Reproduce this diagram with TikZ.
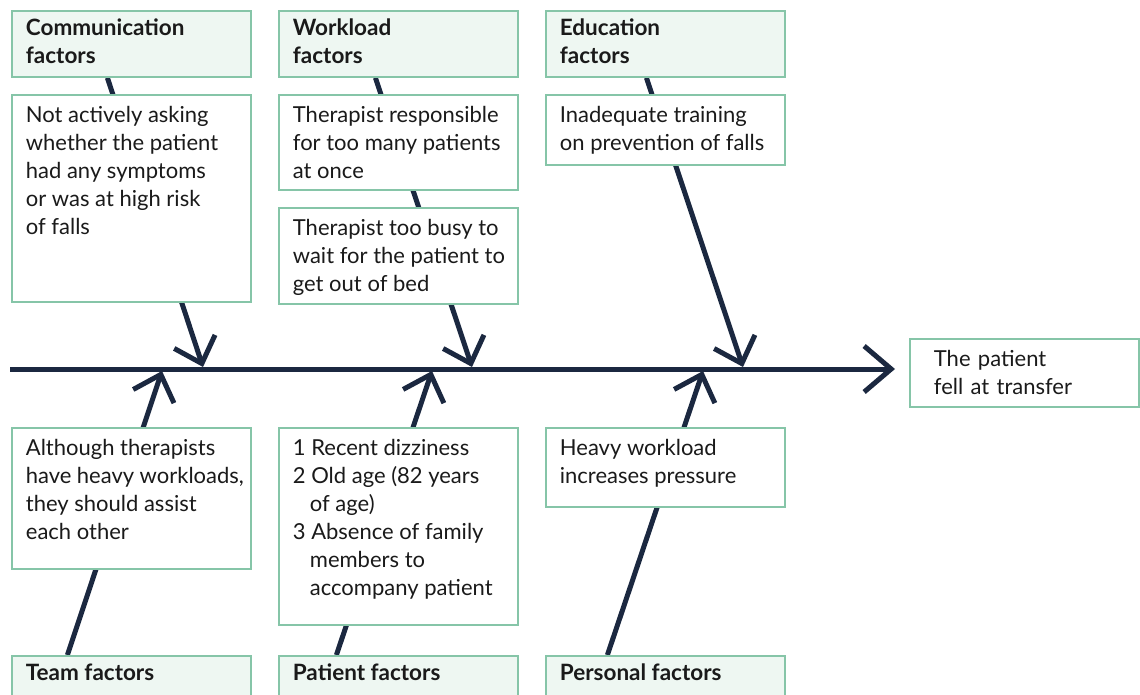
\documentclass[tikz,border=0pt]{standalone}
\usepackage{fontspec}
\setmainfont{Lato}
\usetikzlibrary{arrows.meta,backgrounds}
\definecolor{menta}{HTML}{86C5A8}
\definecolor{mentaclaro}{HTML}{EEF7F2}
\definecolor{marino}{HTML}{1B2840}
\definecolor{tinta}{HTML}{1A1A1A}

% texto alineado arriba dentro de cada caja
\newcommand{\caja}[2]{\parbox[t][#1][t]{225pt}{\raggedright\leftskip=7pt #2}}

\begin{document}
\begin{tikzpicture}[x=1pt,y=-1pt,font=\fontsize{22}{28}\selectfont,text=tinta,
  cab/.style={draw=menta,fill=mentaclaro,line width=1.8pt,anchor=north west,inner xsep=7pt,inner ysep=8pt,font=\fontsize{22.5}{28}\selectfont\bfseries},
  causa/.style={draw=menta,fill=white,line width=1.8pt,anchor=north west,inner xsep=7pt,inner ysep=11pt},
  espina/.style={marino,line width=5pt,-{Straight Barb[length=27pt,width=46pt]}},
  hueso/.style={marino,line width=5pt,-{Straight Barb[length=23pt,width=43pt]}}]
\useasboundingbox (0,0) rectangle (1140,695);
% cabeceras
\node[cab] (comm) at (11,10) {\caja{50pt}{Communication\\factors}};
\node[cab] (work) at (278,10) {\caja{50pt}{Workload\\factors}};
\node[cab] (educ) at (545,10) {\caja{50pt}{Education\\factors}};
\node[cab] (team) at (11,655) {\caja{50pt}{Team factors}};
\node[cab] (pat) at (278,655) {\caja{50pt}{Patient factors}};
\node[cab] (pers) at (545,655) {\caja{50pt}{Personal factors}};
% causas
\node[causa] (c1) at (11,94) {\caja{185pt}{Not actively asking\\whether the patient\\had any symptoms\\or was at high risk\\of falls}};
\node[causa] (c2) at (278,94) {\caja{73pt}{Therapist responsible\\for too many patients\\at once}};
\node[causa] (c3) at (278,207) {\caja{74pt}{Therapist too busy to\\wait for the patient to\\get out of bed}};
\node[causa] (c4) at (545,94) {\caja{48pt}{Inadequate training\\on prevention of falls}};
\node[causa] (c5) at (11,427) {\caja{119pt}{Although therapists\\have heavy workloads,\\they should assist\\each other}};
\node[causa] (c6) at (278,427) {\caja{175pt}{1 Recent dizziness\\2 Old age (82 years\\\hspace*{17pt}of age)\\3 Absence of family\\\hspace*{17pt}members to\\\hspace*{17pt}accompany patient}};
\node[causa] (c7) at (545,427) {\caja{57pt}{Heavy workload\\increases pressure}};
\node[draw=menta,line width=1.8pt,anchor=north west,inner xsep=24pt,minimum width=229pt,minimum height=68pt,text width=181pt,align=left] (res) at (909,338) {The patient\\fell at transfer};
% espina
\coordinate (ini) at (10,369);
\coordinate (pComm) at (203,367);
\coordinate (pWork) at (472,367);
\coordinate (pEduc) at (743,367);
\coordinate (pTeam) at (162,371);
\coordinate (pPat) at (432,371);
\coordinate (pPers) at (703,371);
\begin{scope}[on background layer]
\draw[espina] (ini) -- ([xshift=-14pt]res.west |- ini);
\draw[hueso] ([xshift=-24pt]comm.south) -- (pComm);
\draw[hueso] ([xshift=-23pt]work.south) -- (pWork);
\draw[hueso] ([xshift=-19pt]educ.south) -- (pEduc);
\draw[hueso] ([xshift=-64pt]team.north) -- (pTeam);
\draw[hueso] ([xshift=-62pt]pat.north) -- (pPat);
\draw[hueso] ([xshift=-58pt]pers.north) -- (pPers);
\end{scope}
\end{tikzpicture}
\end{document}
